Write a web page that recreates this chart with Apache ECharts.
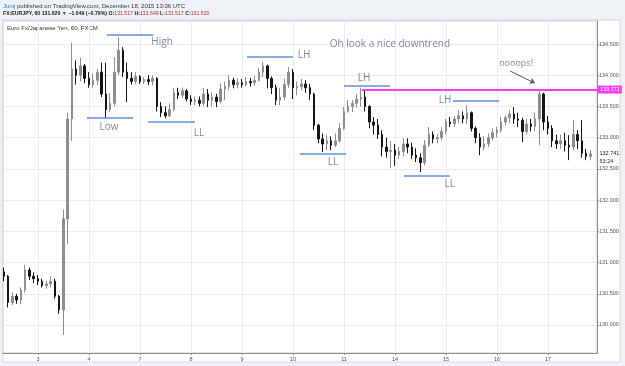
<!DOCTYPE html>
<html>
<head>
<meta charset="utf-8">
<script src="https://cdn.jsdelivr.net/npm/echarts@6/dist/echarts.min.js"></script>
<style>
html, body { margin: 0; padding: 0; background: #eef1f5; }
#chart { width: 625px; height: 366px; }
</style>
</head>
<body>
<div id="chart"></div>
<script>
// EUR/JPY 60 min, FXCM. Candles are summed to 2 hour bars: [open, close, low, high]
// bar 0 = Dec 3 00:00, one day = 12 bars, weekends left out
var firstBar = -8;

var dec02 = [
    [130.85, 130.78, 130.70, 130.92], [130.78, 130.36, 130.28, 130.80],
    [130.36, 130.46, 130.32, 130.52], [130.46, 130.40, 130.34, 130.50],
    [130.40, 130.56, 130.33, 130.60], [130.56, 130.88, 130.52, 130.96],
    [130.88, 130.78, 130.72, 130.92], [130.78, 130.74, 130.67, 130.84]
];
var dec03 = [
    [130.74, 130.70, 130.64, 130.80], [130.70, 130.63, 130.60, 130.74],
    [130.63, 130.66, 130.58, 130.71], [130.66, 130.70, 130.60, 130.78],
    [130.70, 130.46, 130.42, 130.74], [130.46, 130.24, 130.18, 130.48],
    [130.24, 131.70, 129.84, 131.85], [131.70, 133.30, 131.30, 133.40],
    [133.30, 134.10, 132.95, 134.52], [134.10, 134.00, 133.85, 134.24],
    [134.00, 134.15, 133.90, 134.28], [134.15, 133.95, 133.87, 134.18]
];
var dec04 = [
    [133.95, 133.85, 133.80, 134.05], [133.85, 133.92, 133.80, 134.03],
    [133.92, 134.05, 133.84, 134.10], [134.05, 133.70, 133.65, 134.20],
    [133.70, 133.45, 133.31, 134.20], [133.45, 133.55, 133.41, 133.71],
    [133.55, 134.05, 133.50, 134.29], [134.05, 134.40, 134.00, 134.61],
    [134.40, 134.05, 133.97, 134.45], [134.05, 133.95, 133.57, 134.20],
    [133.95, 133.90, 133.85, 134.05], [133.90, 133.98, 133.86, 134.05]
];
var dec07 = [
    [133.98, 133.90, 133.86, 134.00], [133.90, 133.93, 133.86, 133.97],
    [133.93, 133.90, 133.84, 134.00], [133.90, 133.95, 133.84, 134.00],
    [133.95, 133.50, 133.42, 133.97], [133.50, 133.40, 133.33, 133.57],
    [133.40, 133.35, 133.31, 133.50], [133.35, 133.45, 133.33, 133.55],
    [133.45, 133.72, 133.42, 133.80], [133.72, 133.68, 133.62, 133.80],
    [133.68, 133.75, 133.63, 133.80], [133.75, 133.62, 133.58, 133.78]
];
var dec08 = [
    [133.62, 133.58, 133.52, 133.68], [133.58, 133.60, 133.52, 133.66],
    [133.60, 133.55, 133.50, 133.66], [133.55, 133.70, 133.50, 133.80],
    [133.70, 133.60, 133.49, 133.78], [133.60, 133.65, 133.50, 133.73],
    [133.65, 133.58, 133.49, 133.70], [133.58, 133.78, 133.55, 133.87],
    [133.78, 133.82, 133.60, 133.90], [133.82, 133.92, 133.76, 134.00],
    [133.92, 133.85, 133.79, 133.96], [133.85, 133.88, 133.79, 133.95]
];
var dec09 = [
    [133.88, 133.85, 133.80, 133.94], [133.85, 133.90, 133.82, 133.97],
    [133.90, 133.88, 133.82, 133.96], [133.88, 133.92, 133.83, 133.99],
    [133.92, 134.05, 133.90, 134.12], [134.05, 134.15, 133.97, 134.21],
    [134.15, 133.95, 133.79, 134.17], [133.95, 133.80, 133.70, 133.98],
    [133.80, 133.60, 133.52, 133.85], [133.60, 133.65, 133.52, 133.80],
    [133.65, 133.85, 133.60, 133.95], [133.85, 134.05, 133.80, 134.13]
];
var dec10 = [
    [134.05, 133.80, 133.62, 134.10], [133.80, 133.82, 133.68, 133.90],
    [133.82, 133.86, 133.76, 133.94], [133.86, 133.80, 133.72, 133.92],
    [133.80, 133.70, 133.60, 133.86], [133.70, 133.20, 133.12, 133.72],
    [133.20, 132.98, 132.91, 133.22], [132.98, 132.90, 132.77, 133.07],
    [132.90, 132.95, 132.80, 133.04], [132.95, 132.88, 132.80, 133.02],
    [132.88, 132.95, 132.85, 133.07], [132.95, 133.15, 132.92, 133.23]
];
var dec11 = [
    [133.15, 133.42, 133.12, 133.49], [133.42, 133.50, 133.40, 133.60],
    [133.50, 133.55, 133.41, 133.60], [133.55, 133.62, 133.48, 133.70],
    [133.62, 133.65, 133.50, 133.80], [133.65, 133.50, 133.42, 133.75],
    [133.50, 133.25, 133.15, 133.52], [133.25, 133.20, 133.05, 133.33],
    [133.20, 133.05, 132.98, 133.30], [133.05, 132.85, 132.70, 133.12],
    [132.85, 132.78, 132.68, 133.00], [132.78, 132.80, 132.51, 132.95]
];
var dec14 = [
    [132.80, 132.72, 132.55, 132.90], [132.72, 132.78, 132.66, 132.85],
    [132.78, 132.90, 132.70, 132.99], [132.90, 132.85, 132.75, 132.99],
    [132.85, 132.72, 132.66, 132.92], [132.72, 132.68, 132.61, 132.83],
    [132.68, 132.60, 132.45, 132.75], [132.60, 132.88, 132.55, 132.96],
    [132.88, 133.05, 132.85, 133.17], [133.05, 132.98, 132.91, 133.10],
    [132.98, 133.00, 132.91, 133.06], [133.00, 133.10, 132.96, 133.17]
];
var dec15 = [
    [133.10, 133.25, 133.05, 133.30], [133.25, 133.22, 133.17, 133.33],
    [133.22, 133.30, 133.17, 133.35], [133.30, 133.35, 133.23, 133.44],
    [133.35, 133.30, 133.23, 133.42], [133.30, 133.40, 133.22, 133.52],
    [133.40, 133.15, 133.10, 133.42], [133.15, 133.00, 132.91, 133.18],
    [133.00, 132.85, 132.72, 133.07], [132.85, 132.90, 132.80, 133.02],
    [132.90, 133.00, 132.85, 133.07], [133.00, 133.08, 132.96, 133.15]
];
var dec16 = [
    [133.08, 133.12, 133.00, 133.17], [133.12, 133.25, 133.08, 133.33],
    [133.25, 133.32, 133.20, 133.36], [133.32, 133.38, 133.23, 133.44],
    [133.38, 133.30, 133.22, 133.49], [133.30, 133.28, 133.17, 133.40],
    [133.28, 133.10, 132.93, 133.32], [133.10, 133.22, 133.05, 133.30],
    [133.22, 133.18, 133.10, 133.30], [133.18, 133.30, 133.10, 133.40],
    [133.30, 133.70, 132.88, 133.77], [133.70, 133.25, 133.12, 133.72]
];
var dec17 = [
    [133.25, 133.15, 133.05, 133.35], [133.15, 132.95, 132.85, 133.20],
    [132.95, 132.90, 132.82, 133.05], [132.90, 132.95, 132.82, 133.05],
    [132.95, 132.88, 132.78, 133.08], [132.88, 132.85, 132.64, 133.04],
    [132.85, 133.05, 132.80, 133.28], [133.05, 132.95, 132.82, 133.12],
    [132.95, 132.75, 132.68, 133.28], [132.75, 132.70, 132.64, 132.82],
    [132.70, 132.74, 132.64, 132.80]
];

var dayTicks = [0, 12, 24, 36, 48, 60, 72, 84, 96, 108, 120];
var dayLabels = ['3', '4', '7', '8', '9', '10', '11', '14', '15', '16', '17'];
var priceTicks = [130, 130.5, 131, 131.5, 132, 132.5, 133, 133.5, 134, 134.5];

// drawn levels: [from bar, to bar, price]
var levelLines = [
    [16.2, 27.1, 134.644],
    [11.5, 22.4, 133.314],
    [25.9, 36.9, 133.25],
    [49.2, 60.0, 134.29],
    [61.6, 72.5, 132.737],
    [72.0, 82.8, 133.827],
    [86.1, 96.9, 132.385],
    [97.6, 108.5, 133.587]
];
// labels: [text, bar, price]
var levelNotes = [
    ['High', 29.2, 134.532],
    ['Low', 16.7, 133.17],
    ['LL', 37.9, 133.074],
    ['LH', 62.6, 134.324],
    ['LL', 69.4, 132.609],
    ['LH', 76.7, 133.955],
    ['LL', 96.9, 132.256],
    ['LH', 95.8, 133.603]
];
var headline = ['Oh look a nice downtrend', 82.8, 134.5];
var oopsNote = ['oooops!', 112.5, 134.196];
var oopsArrow = [[111.1, 134.067], [116.9, 133.875]];
var resistance = [76.2, 133.771];
var lastPrice = 132.741;
var countdown = '53:24';

var xMin = -8.235, xMax = 131.53;

var candles = [].concat(dec02, dec03, dec04, dec07, dec08, dec09, dec10, dec11, dec14, dec15, dec16, dec17)
    .map(function (r, i) { return [firstBar + i].concat(r); });

var noteColor = '#586d84';
var lineBlue = '#5b8fd9';

var myChart = echarts.init(document.getElementById('chart'));

var option = {
    animation: false,
    backgroundColor: '#eef1f5',
    textStyle: { fontFamily: 'Liberation Sans' },
    graphic: [
        {
            type: 'rect', z: -10, silent: true,
            shape: { x: 3, y: 20, width: 617, height: 342 },
            style: { fill: '#fff', stroke: '#d3d7de' }
        },
        {
            type: 'text', left: 3, top: 3,
            style: {
                text: '{u|Junij} published on TradingView.com, December 18, 2015 13:06 UTC',
                fill: '#333', fontSize: 6, fontFamily: 'Liberation Sans',
                rich: { u: { fill: '#2f7ae5', fontSize: 6, fontFamily: 'Liberation Sans' } }
            }
        },
        {
            type: 'text', left: 3, top: 11,
            style: {
                text: 'FX:EURJPY, 60 131.620 {r|▼} −1.049 (−0.79%) O:{r|131.517} H:{r|131.649} L:{r|131.517} C:{r|131.620}',
                fill: '#222', fontSize: 5.2, fontWeight: 'bold', fontFamily: 'Liberation Sans',
                rich: { r: { fill: '#c0272d', fontSize: 5.2, fontWeight: 'normal', fontFamily: 'Liberation Sans' } }
            }
        },
        {
            type: 'text', left: 7, top: 25,
            style: { text: 'Euro Fx/Japanese Yen, 60, FXCM', fill: '#333', fontSize: 6, fontFamily: 'Liberation Sans' }
        }
    ],
    grid: {
        left: 3, right: 28, top: 21, bottom: 13,
        show: true, backgroundColor: '#fff', borderColor: '#cfcfcf', borderWidth: 1
    },
    xAxis: {
        type: 'value', min: xMin, max: xMax,
        axisLine: { show: true, onZero: false, lineStyle: { color: '#8c8c8c' } },
        axisTick: { show: true, customValues: dayTicks, length: 2, lineStyle: { color: '#8c8c8c' } },
        axisLabel: {
            customValues: dayTicks, fontSize: 5.5, color: '#555', margin: 3,
            formatter: function (v) { return dayLabels[Math.round(v / 12)]; }
        },
        splitLine: { show: true, lineStyle: { color: '#ececec' } }
    },
    yAxis: {
        type: 'value', position: 'right', min: 129.551, max: 134.869,
        axisLine: { show: true, onZero: false, lineStyle: { color: '#8c8c8c' } },
        axisTick: { show: true, customValues: priceTicks, length: 2, lineStyle: { color: '#8c8c8c' } },
        axisLabel: {
            customValues: priceTicks, fontSize: 5.5, color: '#555', margin: 2,
            formatter: function (v) { return v.toFixed(3); }
        },
        splitLine: { show: true, lineStyle: { color: '#ececec' } }
    },
    series: [
        {
            name: 'EURJPY',
            type: 'candlestick',
            data: candles,
            barWidth: 2,
            itemStyle: {
                color: '#8d8d8d', color0: '#151515',
                borderColor: '#8d8d8d', borderColor0: '#151515', borderWidth: 1
            },
            markLine: {
                silent: true, symbol: 'none',
                label: { show: false },
                lineStyle: { color: lineBlue, width: 1.5, type: 'solid' },
                data: levelLines.map(function (l) {
                    return [{ coord: [l[0], l[2]] }, { coord: [l[1], l[2]] }];
                })
            }
        },
        {
            name: 'notes',
            type: 'scatter',
            silent: true,
            symbolSize: 1,
            itemStyle: { color: 'transparent' },
            label: {
                show: true, position: 'inside', formatter: '{b}',
                color: noteColor, fontSize: 10, fontFamily: 'Open Sans'
            },
            data: levelNotes.map(function (n) { return { name: n[0], value: [n[1], n[2]] }; })
                .concat([
                    { name: headline[0], value: [headline[1], headline[2]], label: { fontSize: 10 } },
                    { name: oopsNote[0], value: [oopsNote[1], oopsNote[2]], label: { fontSize: 9 } }
                ]),
            markLine: {
                silent: true,
                symbol: ['none', 'arrow'], symbolSize: 5,
                label: { show: false },
                lineStyle: { color: '#555', width: 1, type: 'solid' },
                data: [[{ coord: oopsArrow[0] }, { coord: oopsArrow[1] }]]
            }
        },
        {
            name: 'levels',
            type: 'scatter',
            silent: true,
            data: [],
            markLine: {
                silent: true, symbol: 'none',
                lineStyle: { color: '#ff3bff', width: 2, type: 'solid' },
                label: {
                    show: true, position: 'end', distance: 1,
                    formatter: resistance[1].toFixed(3),
                    color: '#fff', backgroundColor: '#ff3bff',
                    fontSize: 5.5, padding: [1, 2]
                },
                data: [
                    [{ coord: [resistance[0], resistance[1]] }, { coord: [xMax, resistance[1]] }]
                ]
            },
            markPoint: {
                silent: true,
                symbol: 'rect', symbolSize: 1,
                itemStyle: { color: 'transparent' },
                label: {
                    show: true, position: 'right', distance: 2,
                    color: '#222', fontSize: 5.5, lineHeight: 8, offset: [0, 4],
                    formatter: lastPrice.toFixed(3) + '\n' + countdown
                },
                data: [{ coord: [xMax, lastPrice] }]
            }
        }
    ]
};

myChart.setOption(option);

window.onresize = function () {
    myChart.resize();
};
</script>
</body>
</html>
